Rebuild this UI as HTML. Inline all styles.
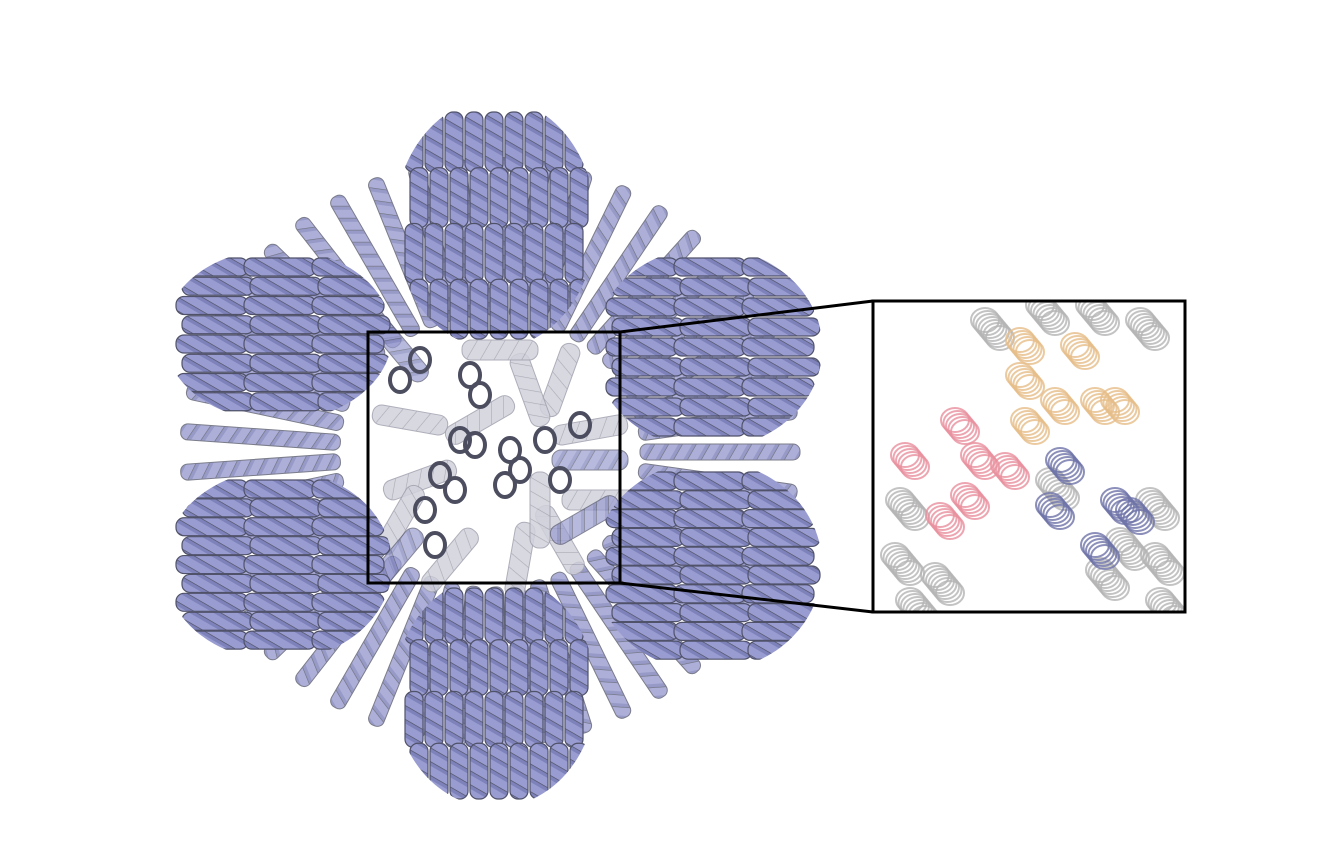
<!DOCTYPE html>
<html><head><meta charset="utf-8"><style>
html,body{margin:0;padding:0;background:#fff;}
svg{display:block;}
</style></head><body>
<svg width="1323" height="851" viewBox="0 0 1323 851">
<defs id="defs">
<pattern id="helix" width="9" height="12" patternUnits="userSpaceOnUse" patternTransform="rotate(30)">
<rect width="9" height="12" fill="#999cd0"/>
<rect x="0" y="0" width="9" height="4" fill="#7e82ba"/>
<line x1="0" y1="0" x2="9" y2="0" stroke="#4e5060" stroke-width="1.3"/>
</pattern>
<pattern id="helixg" width="9" height="12" patternUnits="userSpaceOnUse" patternTransform="rotate(30)">
<rect width="9" height="12" fill="#d2d2dc"/>
<line x1="0" y1="0" x2="9" y2="0" stroke="#9a9aa6" stroke-width="1.2"/>
</pattern>
<clipPath id="insetclip"><rect x="873" y="301" width="312" height="311"/></clipPath>
</defs>
<g id="spokes"></g>
<g id="core"></g>
<g id="cage"></g>
<g id="dark"></g>
<rect x="368" y="332" width="252" height="251" fill="none" stroke="#000" stroke-width="3"/>
<line x1="620" y1="332" x2="873" y2="301" stroke="#000" stroke-width="3"/>
<line x1="620" y1="583" x2="873" y2="612" stroke="#000" stroke-width="3"/>
<rect x="873" y="301" width="312" height="311" fill="#fff"/>
<g id="inset" clip-path="url(#insetclip)"></g>
<rect x="873" y="301" width="312" height="311" fill="none" stroke="#000" stroke-width="3"/>
</svg>
<script>
const NS='http://www.w3.org/2000/svg';
const cage=document.getElementById('cage');
const spokes=document.getElementById('spokes');
const core=document.getElementById('core');
const dark=document.getElementById('dark');
const inset=document.getElementById('inset');
const defs=document.getElementById('defs');
function mk(tag,attrs,parent){const e=document.createElementNS(NS,tag);for(const k in attrs)e.setAttribute(k,attrs[k]);parent.appendChild(e);return e;}
const cx=490,cy=452;
for(let d=0;d<360;d+=8){
  const a=d*Math.PI/180;
  const x=cx+Math.cos(a)*230,y=cy+Math.sin(a)*215;
  const r=mk('rect',{x:-8,y:-80,width:16,height:160,rx:7,fill:'url(#helix)',stroke:'#5a5c6e','stroke-width':1,opacity:0.8,transform:`translate(${x},${y}) rotate(${d+90})`},spokes);
  
  
}
const lobes=[[405,112,585,335,'v'],[405,588,585,795,'v'],[176,258,380,412,'h'],[176,480,380,650,'h'],[606,258,810,438,'h'],[606,472,810,660,'h']];
lobes.forEach((l,i)=>{
  const cp=mk('clipPath',{id:'lc'+i},defs);
  mk('ellipse',{cx:(l[0]+l[2])/2,cy:(l[1]+l[3])/2,rx:(l[2]-l[0])/2*1.12,ry:(l[3]-l[1])/2*1.12},cp);
  const g=mk('g',{'clip-path':`url(#lc${i})`},cage);
  
  
  const W=l[2]-l[0],H=l[3]-l[1];
  if(l[4]==='v'){
    const cols=Math.round(W/19),rows=Math.round(H/55);
    for(let r=0;r<rows;r++)for(let c=0;c<cols;c++){
      const x=l[0]+c*(W/cols)+(r%2?5:0),y=l[1]+r*(H/rows);
      const e=mk('rect',{x:x,y:y,width:18,height:H/rows+4,rx:8,fill:'url(#helix)',stroke:'#50526a','stroke-width':1.2},g);
      
      
    }
  }else{
    const rows=Math.round(H/19),cols=Math.round(W/60);
    for(let r=0;r<rows;r++)for(let c=0;c<cols;c++){
      const x=l[0]+c*(W/cols)+(r%2?6:0),y=l[1]+r*(H/rows);
      const e=mk('rect',{x:x,y:y,width:W/cols+4,height:18,rx:8,fill:'url(#helix)',stroke:'#50526a','stroke-width':1.2},g);
      
      
    }
  }
});
const fad=[[560,380,20],[590,430,80],[410,420,100],[420,480,70],[560,540,-30],[520,560,10],[450,560,40],[600,500,90],[530,390,-20],[480,420,60],[540,510,0],[400,520,30],[500,350,90]];
fad.forEach(p=>{
  const e=mk('rect',{x:-10,y:-38,width:20,height:76,rx:9,fill:'url(#helixg)',stroke:'#a0a0ae','stroke-width':1,opacity:0.85,transform:`translate(${p[0]},${p[1]}) rotate(${p[2]})`},core);
  
  
});
const pur=[[590,460,90],[585,520,60],[400,350,-40],[395,560,40]];
pur.forEach(p=>{
  const e=mk('rect',{x:-10,y:-38,width:20,height:76,rx:9,fill:'url(#helix)',stroke:'#50526a','stroke-width':1,opacity:0.7,transform:`translate(${p[0]},${p[1]}) rotate(${p[2]})`},core);
  
  
});
const darks=[[470,375],[480,395],[460,440],[475,445],[510,450],[520,470],[545,440],[560,480],[440,475],[455,490],[425,510],[435,545],[580,425],[505,485],[420,360],[400,380]];
darks.forEach(p=>{
  const c=mk('ellipse',{cx:p[0],cy:p[1],rx:10,ry:12,fill:'none',stroke:'#4c4e60','stroke-width':4},dark);
  
  
});
function ring(x,y,col,name,n){
  for(let k=0;k<(n||5);k++){
    const c=mk('ellipse',{cx:x+k*2.5,cy:y+k*3,rx:14,ry:12,fill:'none',stroke:col,'stroke-width':2,opacity:0.8},inset);
    
    
  }
}
const grey=[[900,500],[895,555],[935,575],[1150,500],[1155,555],[1100,570],[1040,305],[1090,305],[1140,320],[985,320],[1050,480],[1120,540],[1160,600],[910,600]];
grey.forEach(p=>ring(p[0],p[1],'#b4b4b4','grey-helix',7));
[[1020,340],[1020,375],[1075,345],[1025,420],[1055,400],[1095,400],[1115,400]].forEach(p=>ring(p[0],p[1],'#e6bd88','orange-helix'));
[[905,455],[955,420],[975,455],[1005,465],[940,515],[965,495]].forEach(p=>ring(p[0],p[1],'#e8909e','pink-helix'));
[[1060,460],[1050,505],[1115,500],[1095,545],[1130,510]].forEach(p=>ring(p[0],p[1],'#6e73a8','blue-helix'));
</script>
</body></html>
